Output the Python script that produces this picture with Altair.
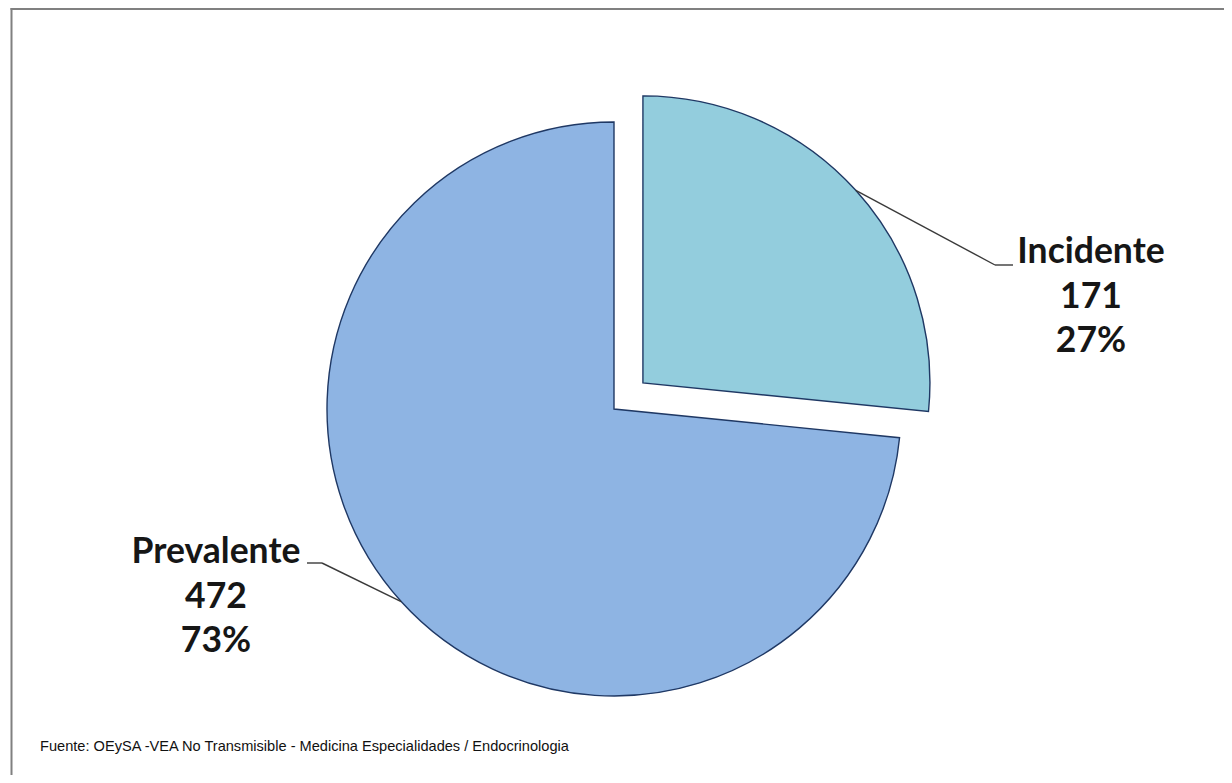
import altair as alt
import pandas as pd

# ---- data ----
categories = ["Incidente", "Prevalente"]
values = [171, 472]
slice_order = [0, 1]
colors = ["#93CDDD", "#8EB4E3"]
source_note = "Fuente: OEySA -VEA No Transmisible - Medicina Especialidades / Endocrinologia"

# ---- layout (svg pixels) ----
W, H = 1216, 767
CX, CY, R = 606, 401, 287
explode_px = {"Incidente": 39, "Prevalente": 0}
label_x = {"Incidente": 1083, "Prevalente": 208}
label_y = {"Incidente": 255, "Prevalente": 555}
elbow_x = {"Incidente": 987, "Prevalente": 314}
elbow_y = {"Incidente": 257, "Prevalente": 555}
end_x = {"Incidente": 1005, "Prevalente": 299}

df = pd.DataFrame({"cat": categories, "value": values, "order": slice_order})
df["ex"] = df["cat"].map(explode_px)
df["lx"] = df["cat"].map(label_x)
df["ly"] = df["cat"].map(label_y)
df["elx"] = df["cat"].map(elbow_x)
df["ely"] = df["cat"].map(elbow_y)
df["endx"] = df["cat"].map(end_x)

base = (
    alt.Chart(df)
    .transform_joinaggregate(total="sum(value)")
    .transform_window(cum="sum(value)", sort=[alt.SortField("order")])
    .transform_calculate(a0="(datum.cum - datum.value) / datum.total * 2 * PI")
    .transform_calculate(a1="datum.cum / datum.total * 2 * PI")
    .transform_calculate(mid="(datum.a0 + datum.a1) / 2")
    .transform_calculate(cx=f"{CX} + datum.ex * sin(datum.mid)")
    .transform_calculate(cy=f"{CY} - datum.ex * cos(datum.mid)")
    .transform_calculate(px=f"datum.cx + {R} * sin(datum.mid)")
    .transform_calculate(py=f"datum.cy - {R} * cos(datum.mid)")
    .transform_calculate(pct="round(datum.value / datum.total * 100) + '%'")
    .transform_calculate(label="[datum.cat, '' + datum.value, datum.pct]")
)

one = pd.DataFrame({"k": [0]})
frame_top = alt.Chart(one).mark_rule(color="#808080", strokeWidth=2).encode(
    x=alt.value(2.5), x2=alt.value(W), y=alt.value(1)
)
frame_left = alt.Chart(one).mark_rule(color="#808080", strokeWidth=2).encode(
    x=alt.value(3.5), y=alt.value(0), y2=alt.value(H)
)

arcs = base.mark_arc(radius=R, stroke="#1F3864", strokeWidth=1.4).encode(
    theta=alt.Theta("a0:Q", scale=None),
    theta2="a1:Q",
    x=alt.X("cx:Q", scale=None),
    y=alt.Y("cy:Q", scale=None),
    color=alt.Color("cat:N", scale=alt.Scale(domain=categories, range=colors), legend=None),
)

leader1 = base.mark_rule(color="#3a3a3a", strokeWidth=1.4).encode(
    x=alt.X("px:Q", scale=None), y=alt.Y("py:Q", scale=None), x2="elx:Q", y2="ely:Q"
)
leader2 = base.mark_rule(color="#3a3a3a", strokeWidth=1.4).encode(
    x=alt.X("elx:Q", scale=None), y=alt.Y("ely:Q", scale=None), x2="endx:Q", y2="ely:Q"
)

labels = base.mark_text(
    font="Lato", fontWeight="bold", fontSize=35.5, lineHeight=44.5,
    align="center", baseline="alphabetic", color="#161616",
).encode(x=alt.X("lx:Q", scale=None), y=alt.Y("ly:Q", scale=None), text=alt.Text("label:N"))

note = alt.Chart(pd.DataFrame({"note": [source_note]})).mark_text(
    font="Liberation Sans", fontSize=14.6, align="left", baseline="alphabetic", color="#111111"
).encode(x=alt.value(32), y=alt.value(743), text="note:N")

chart = (
    alt.layer(frame_top, frame_left, arcs, leader1, leader2, labels, note)
    .properties(width=W, height=H, padding=0, autosize=alt.AutoSizeParams(type="none"), background="white")
    .configure_view(stroke=None)
)

chart.save("out.html", embed_options={"renderer": "svg", "actions": False})
